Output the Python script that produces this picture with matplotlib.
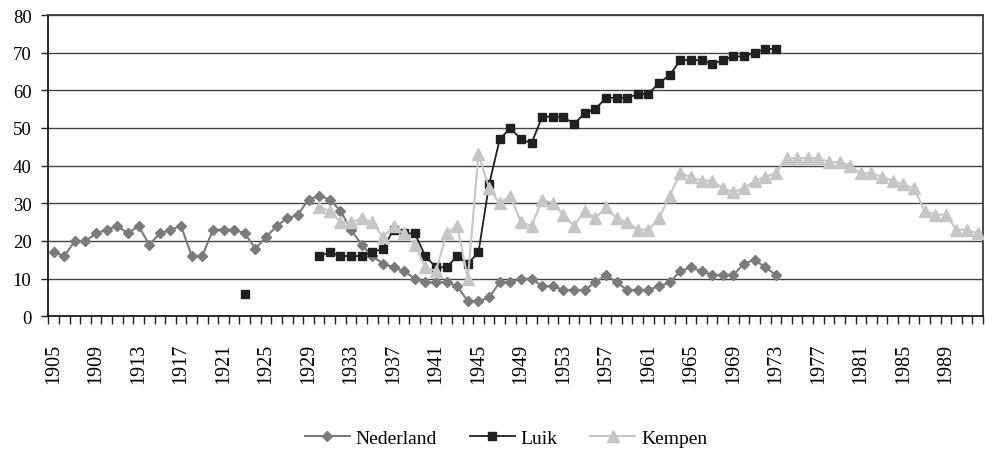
import numpy as np
import pandas as pd
import matplotlib
matplotlib.use("Agg")
import matplotlib.pyplot as plt

plt.rcParams["font.family"] = ["Liberation Serif", "DejaVu Serif"]

# categories: one per year
years = np.arange(1905, 1993)

# series, each listed from its first year (nan = no value)
nederland_start = 1905
nederland = [17, 16, 20, 20, 22, 23, 24, 22, 24, 19, 22, 23, 24, 16, 16, 23, 23, 23, 22, 18,
             21, 24, 26, 27, 31, 32, 31, 28, 23, 19, 16, 14, 13, 12, 10, 9, 9, 9, 8, 4,
             4, 5, 9, 9, 10, 10, 8, 8, 7, 7, 7, 9, 11, 9, 7, 7, 7, 8, 9, 12,
             13, 12, 11, 11, 11, 14, 15, 13, 11]

luik_start = 1923
luik = [6, np.nan, np.nan, np.nan, np.nan, np.nan, np.nan,
        16, 17, 16, 16, 16, 17, 18, 23, 22, 22, 16, 13, 13, 16, 14, 17, 35, 47, 50,
        47, 46, 53, 53, 53, 51, 54, 55, 58, 58, 58, 59, 59, 62, 64, 68, 68, 68, 67, 68,
        69, 69, 70, 71, 71]

kempen_start = 1930
kempen = [29, 28, 25, 25, 26, 25, 21, 24, 22, 19, 13, 12, 22, 24, 10, 43, 34, 30, 32, 25,
          24, 31, 30, 27, 24, 28, 26, 29, 26, 25, 23, 23, 26, 32, 38, 37, 36, 36, 34, 33,
          34, 36, 37, 38, 42, 42, 42, 42, 41, 41, 40, 38, 38, 37, 36, 35, 34, 28, 27, 27,
          23, 23, 22]

y_ticks = [0, 10, 20, 30, 40, 50, 60, 70, 80]


def on_years(values, start):
    s = pd.Series(values, index=np.arange(start, start + len(values)), dtype=float)
    return s.reindex(years).to_numpy()


pos = np.arange(len(years))
fig = plt.figure(figsize=(9.85, 4.52), dpi=100)
ax = fig.add_axes([48.3 / 985, 1 - 317.3 / 452, (983 - 48.3) / 985, (317.3 - 16) / 452])

ax.plot(pos, on_years(nederland, nederland_start), color="#7b7b7b", lw=1.5,
        marker="D", ms=5.4, mec="#7b7b7b", mfc="#7b7b7b", label="Nederland", zorder=3)
ax.plot(pos, on_years(luik, luik_start), color="#231f20", lw=1.3,
        marker="s", ms=6.3, mec="#231f20", mfc="#231f20", label="Luik", zorder=4)
ax.plot(pos, on_years(kempen, kempen_start), color="#c6c6c6", lw=1.5,
        marker="^", ms=9, mec="#c6c6c6", mfc="#c6c6c6", label="Kempen", zorder=5)

ax.set_xlim(-0.5, len(years) - 0.5)
ax.set_ylim(0, 80)
ax.set_yticks(y_ticks)
ax.set_yticklabels([str(v) for v in y_ticks], fontsize=13.5)
ax.yaxis.grid(True, color="#444444", lw=1.0)
ax.set_axisbelow(True)

label_idx = pos[::4]
ax.set_xticks(label_idx)
ax.set_xticklabels([str(years[i]) for i in label_idx], rotation=90, fontsize=14.5)
ax.set_xticks(np.arange(-0.5, len(years) + 0.5, 1), minor=True)
ax.tick_params(axis="x", which="major", length=0, pad=19)
ax.tick_params(axis="x", which="minor", length=5.5, width=1.0, color="#222222", direction="out")
ax.tick_params(axis="y", which="major", length=5, width=1.0, color="#222222", pad=7)

for side in ["left", "bottom"]:
    ax.spines[side].set_color("#1a1a1a")
    ax.spines[side].set_linewidth(1.3)
for side in ["top", "right"]:
    ax.spines[side].set_color("#3c3c3c")
    ax.spines[side].set_linewidth(1.3)

fig.legend(loc="center", bbox_to_anchor=(506 / 985, 1 - 439 / 452), ncol=3,
           frameon=False, fontsize=14, handlelength=2.3, handletextpad=0.3,
           columnspacing=1.7)

fig.savefig("out.png", dpi=100, facecolor="white")
